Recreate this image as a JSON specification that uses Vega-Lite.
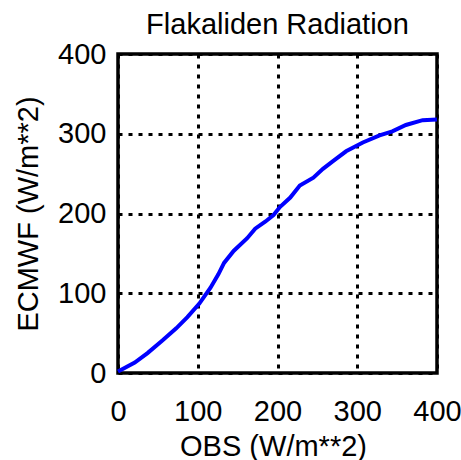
{
  "$schema": "https://vega.github.io/schema/vega-lite/v6.json",
  "width": 319,
  "height": 319,
  "autosize": {"type": "none"},
  "padding": {"left": 118, "top": 54, "right": 24, "bottom": 87},
  "background": "white",
  "title": {
    "text": "Flakaliden Radiation",
    "font": "Liberation Sans",
    "fontSize": 29,
    "fontWeight": "normal",
    "color": "black",
    "anchor": "middle",
    "frame": "group",
    "offset": 0
  },
  "config": {
    "view": {"stroke": "black", "strokeWidth": 3.5},
    "axis": {
      "labelFont": "Liberation Sans",
      "labelFontSize": 29,
      "labelColor": "black",
      "labelFlush": false,
      "labelOverlap": false,
      "titleFont": "Liberation Sans",
      "titleFontSize": 29,
      "titleFontWeight": "normal",
      "titleColor": "black",
      "domain": false,
      "ticks": false,
      "grid": true,
      "gridColor": "black",
      "gridWidth": 3,
      "gridDash": [4, 6],
      "gridOpacity": 1
    }
  },
  "data": {
    "values": [
      {"obs": 0, "ecmwf": 2},
      {"obs": 21, "ecmwf": 13},
      {"obs": 37, "ecmwf": 25},
      {"obs": 56, "ecmwf": 41},
      {"obs": 73, "ecmwf": 56},
      {"obs": 87, "ecmwf": 70},
      {"obs": 102, "ecmwf": 87},
      {"obs": 116, "ecmwf": 107},
      {"obs": 126, "ecmwf": 124},
      {"obs": 133, "ecmwf": 138},
      {"obs": 145, "ecmwf": 153},
      {"obs": 162, "ecmwf": 169},
      {"obs": 172, "ecmwf": 181},
      {"obs": 185, "ecmwf": 190},
      {"obs": 195, "ecmwf": 198},
      {"obs": 203, "ecmwf": 208},
      {"obs": 216, "ecmwf": 220},
      {"obs": 228, "ecmwf": 235},
      {"obs": 245, "ecmwf": 245},
      {"obs": 257, "ecmwf": 256},
      {"obs": 270, "ecmwf": 266},
      {"obs": 286, "ecmwf": 278},
      {"obs": 307, "ecmwf": 289},
      {"obs": 328, "ecmwf": 298},
      {"obs": 344, "ecmwf": 303},
      {"obs": 361, "ecmwf": 311},
      {"obs": 382, "ecmwf": 317},
      {"obs": 400, "ecmwf": 318}
    ]
  },
  "mark": {"type": "line", "color": "#0000ff", "strokeWidth": 4, "clip": false},
  "encoding": {
    "x": {
      "field": "obs",
      "type": "quantitative",
      "scale": {"domain": [0, 400], "nice": false, "zero": false},
      "axis": {
        "values": [0, 100, 200, 300, 400],
        "title": "OBS (W/m**2)",
        "labelPadding": 24,
        "titleX": 155,
        "titleY": 82,
        "titleBaseline": "alphabetic",
        "titleAnchor": "middle",
        "titleAlign": "center"
      }
    },
    "y": {
      "field": "ecmwf",
      "type": "quantitative",
      "scale": {"domain": [0, 400], "nice": false, "zero": false},
      "axis": {
        "values": [0, 100, 200, 300, 400],
        "title": "ECMWF (W/m**2)",
        "labelPadding": 12,
        "titleAngle": -90,
        "titleX": -81,
        "titleY": 159.5,
        "titleBaseline": "alphabetic",
        "titleAlign": "center",
        "titleAnchor": "middle"
      }
    }
  }
}
